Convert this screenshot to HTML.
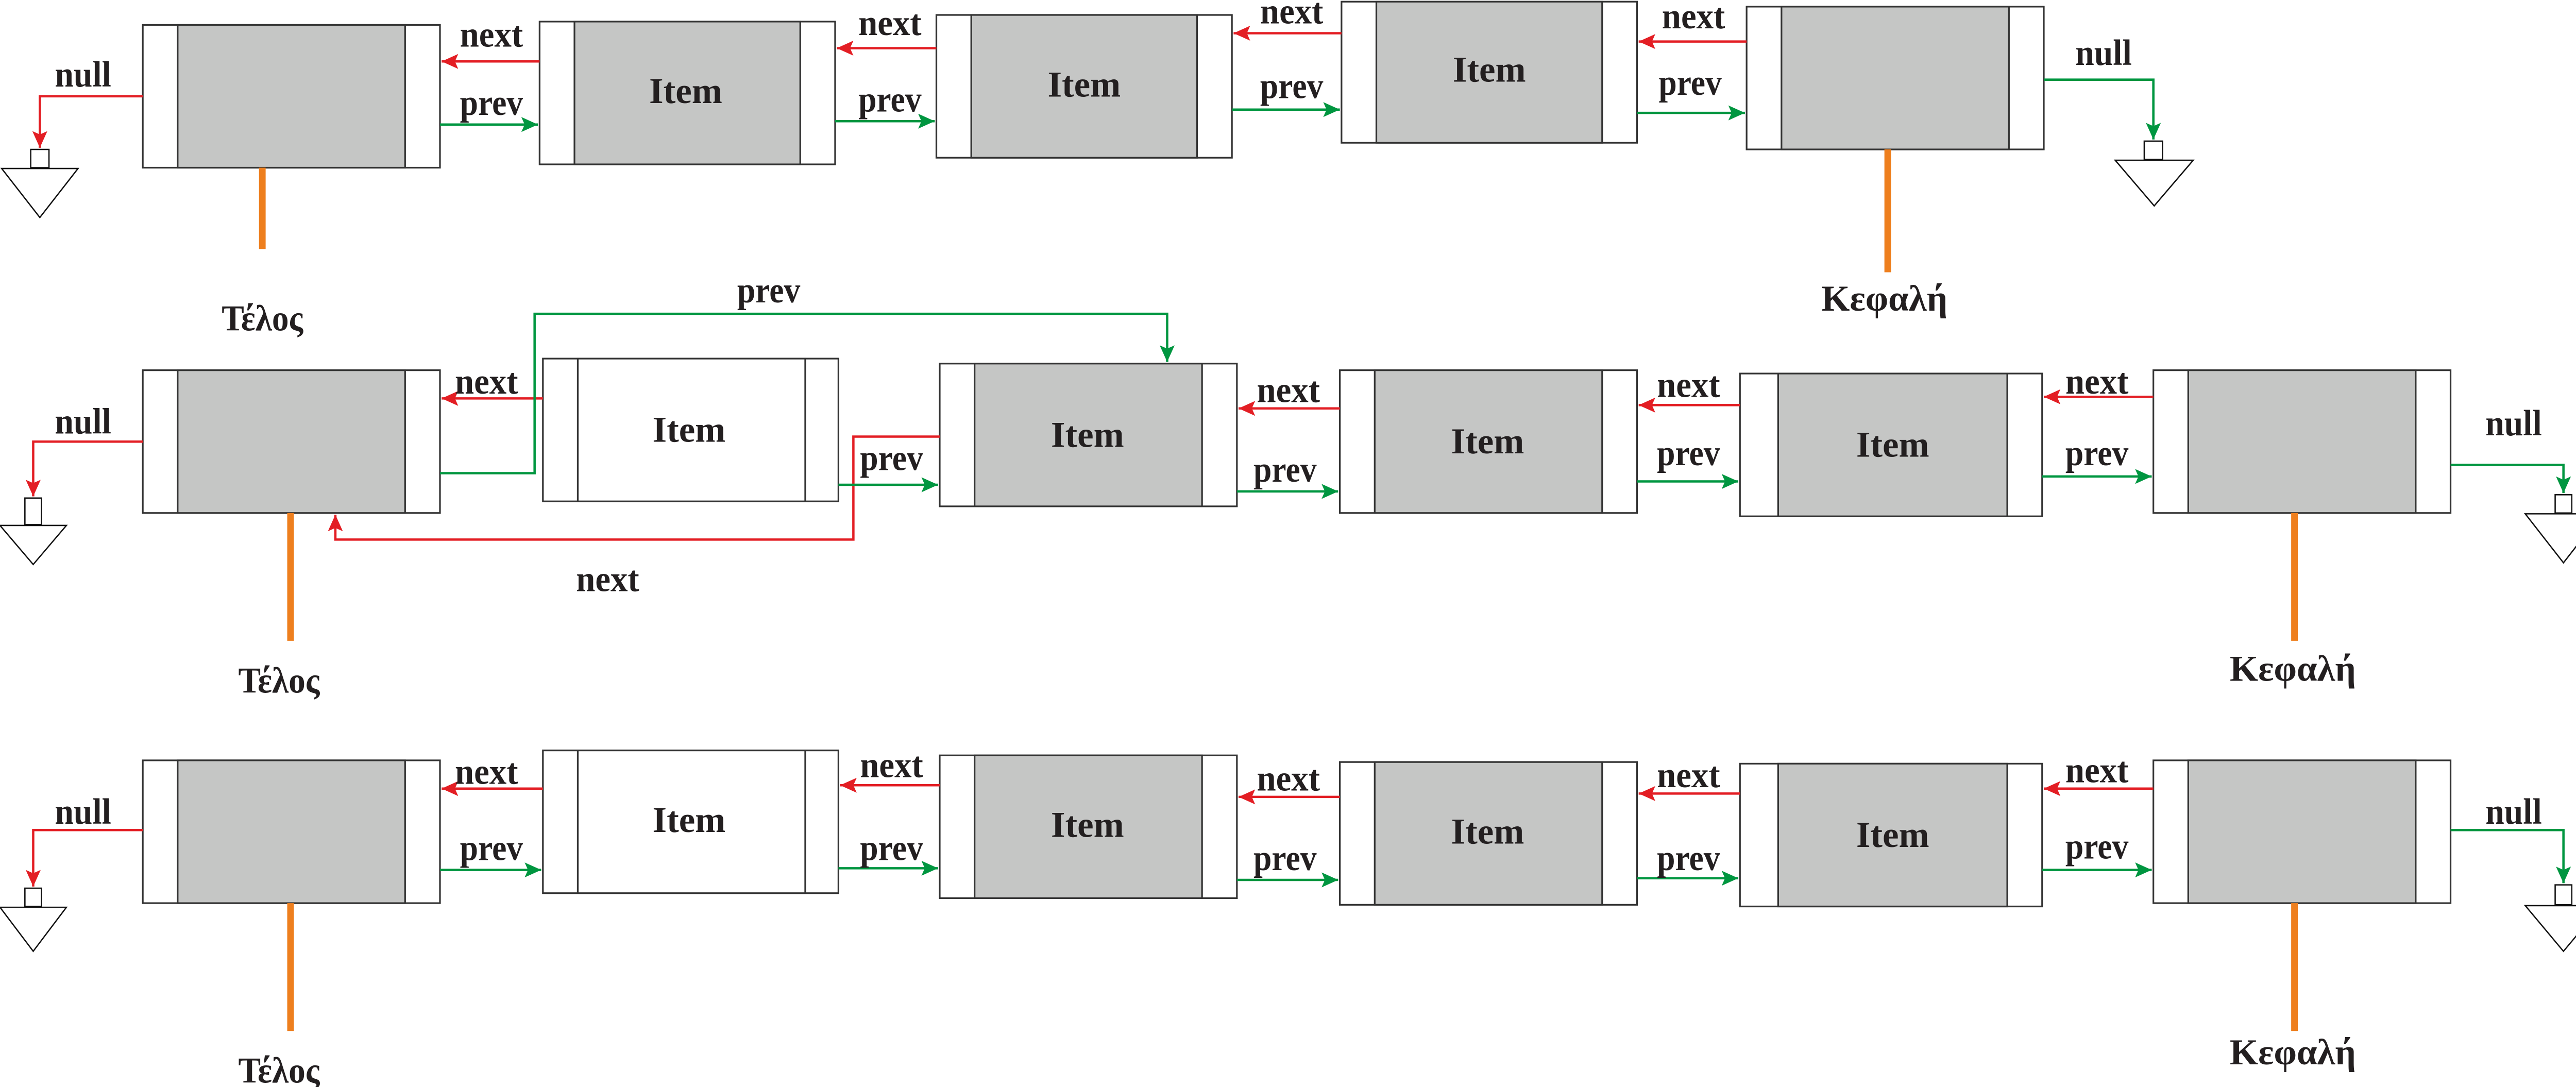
<!DOCTYPE html>
<html><head><meta charset="utf-8"><style>html,body{margin:0;padding:0;background:#fff}svg{display:block}</style></head>
<body>
<svg xmlns="http://www.w3.org/2000/svg" width="5053" height="2110" viewBox="0 0 1568 654.75">
<defs>
<marker id="r" markerUnits="userSpaceOnUse" markerWidth="11" markerHeight="9" refX="10" refY="4.5" orient="auto"><path d="M0,0 L10,4.5 L0,9 L2,4.5z" fill="#e31e24"/></marker>
<marker id="g" markerUnits="userSpaceOnUse" markerWidth="11" markerHeight="9" refX="10" refY="4.5" orient="auto"><path d="M0,0 L10,4.5 L0,9 L2,4.5z" fill="#009640"/></marker>
</defs>
<style>
.o{fill:#fff;stroke:#333;stroke-width:1}
.gr{fill:#c5c6c5;stroke:#333;stroke-width:1}
.wi{fill:#fff;stroke:#333;stroke-width:1}
.rl{fill:none;stroke:#e31e24;stroke-width:1.4}
.gl{fill:none;stroke:#009640;stroke-width:1.4}
.or{stroke:#ee7f1e;stroke-width:4}
text{font-family:"Liberation Serif",serif;font-weight:bold;font-size:22px;fill:#231f20;text-anchor:middle;dominant-baseline:central}
.gnd{fill:#fff;stroke:#111;stroke-width:0.8}
</style>

<!-- ROW 1 boxes -->
<rect class="o" x="86" y="15" width="179" height="86"/><rect class="gr" x="107" y="15" width="137" height="86"/>
<rect class="o" x="325" y="13" width="178" height="86"/><rect class="gr" x="346" y="13" width="136" height="86"/>
<rect class="o" x="564" y="9" width="178" height="86"/><rect class="gr" x="585" y="9" width="136" height="86"/>
<rect class="o" x="808" y="1" width="178" height="85"/><rect class="gr" x="829" y="1" width="136" height="85"/>
<rect class="o" x="1052" y="4" width="179" height="86"/><rect class="gr" x="1073" y="4" width="137" height="86"/>
<text x="413" y="55" textLength="44" lengthAdjust="spacingAndGlyphs">Item</text>
<text x="653" y="51" textLength="44" lengthAdjust="spacingAndGlyphs">Item</text>
<text x="897" y="42" textLength="44" lengthAdjust="spacingAndGlyphs">Item</text>

<polyline class="rl" points="325,37 266,37" marker-end="url(#r)"/>
<polyline class="gl" points="265,75 324,75" marker-end="url(#g)"/>
<polyline class="rl" points="564,29 504,29" marker-end="url(#r)"/>
<polyline class="gl" points="503,73 563,73" marker-end="url(#g)"/>
<polyline class="rl" points="808,20 743,20" marker-end="url(#r)"/>
<polyline class="gl" points="742,66 807,66" marker-end="url(#g)"/>
<polyline class="rl" points="1052,25 987,25" marker-end="url(#r)"/>
<polyline class="gl" points="986,68 1051,68" marker-end="url(#g)"/>
<text x="296" y="21" textLength="38" lengthAdjust="spacingAndGlyphs">next</text>
<text x="296" y="62" textLength="38" lengthAdjust="spacingAndGlyphs">prev</text>
<text x="536" y="14" textLength="38" lengthAdjust="spacingAndGlyphs">next</text>
<text x="536" y="60" textLength="38" lengthAdjust="spacingAndGlyphs">prev</text>
<text x="778" y="7" textLength="38" lengthAdjust="spacingAndGlyphs">next</text>
<text x="778" y="52" textLength="38" lengthAdjust="spacingAndGlyphs">prev</text>
<text x="1020" y="10" textLength="38" lengthAdjust="spacingAndGlyphs">next</text>
<text x="1018" y="50" textLength="38" lengthAdjust="spacingAndGlyphs">prev</text>

<polyline class="rl" points="86,58 24,58 24,89" marker-end="url(#r)"/>
<rect class="gnd" x="18.5" y="90" width="11" height="11"/><polygon class="gnd" points="1,101.5 47,101.5 24,131"/>
<text x="50" y="45" textLength="34" lengthAdjust="spacingAndGlyphs">null</text>
<polyline class="gl" points="1231,48 1297,48 1297,84" marker-end="url(#g)"/>
<rect class="gnd" x="1291.5" y="85" width="11" height="11"/><polygon class="gnd" points="1274,96.5 1321,96.5 1297.5,124"/>
<text x="1267" y="32" textLength="34" lengthAdjust="spacingAndGlyphs">null</text>

<line class="or" x1="158" y1="101" x2="158" y2="150"/>
<text x="158" y="192" textLength="49" lengthAdjust="spacingAndGlyphs">Τέλος</text>
<line class="or" x1="1137" y1="90" x2="1137" y2="164"/>
<text x="1135" y="180" textLength="76" lengthAdjust="spacingAndGlyphs">Κεφαλή</text>

<!-- ROW 2 -->
<rect class="o" x="86" y="223" width="179" height="86"/><rect class="gr" x="107" y="223" width="137" height="86"/>
<rect class="o" x="327" y="216" width="178" height="86"/><rect class="wi" x="348" y="216" width="137" height="86"/>
<rect class="o" x="566" y="219" width="179" height="86"/><rect class="gr" x="587" y="219" width="137" height="86"/>
<rect class="o" x="807" y="223" width="179" height="86"/><rect class="gr" x="828" y="223" width="137" height="86"/>
<rect class="o" x="1048" y="225" width="182" height="86"/><rect class="gr" x="1071" y="225" width="138" height="86"/>
<rect class="o" x="1297" y="223" width="179" height="86"/><rect class="gr" x="1318" y="223" width="137" height="86"/>
<text x="415" y="259" textLength="44" lengthAdjust="spacingAndGlyphs">Item</text>
<text x="655" y="262" textLength="44" lengthAdjust="spacingAndGlyphs">Item</text>
<text x="896" y="266" textLength="44" lengthAdjust="spacingAndGlyphs">Item</text>
<text x="1140" y="268" textLength="44" lengthAdjust="spacingAndGlyphs">Item</text>

<polyline class="rl" points="327,240 266,240" marker-end="url(#r)"/>
<text x="293" y="230" textLength="38" lengthAdjust="spacingAndGlyphs">next</text>
<polyline class="gl" points="265,285 322,285 322,189 703,189 703,218" marker-end="url(#g)"/>
<text x="463" y="175" textLength="38" lengthAdjust="spacingAndGlyphs">prev</text>
<polyline class="rl" points="566,263 514,263 514,325 202,325 202,310" marker-end="url(#r)"/>
<text x="366" y="349" textLength="38" lengthAdjust="spacingAndGlyphs">next</text>
<polyline class="gl" points="505,292 565,292" marker-end="url(#g)"/>
<text x="537" y="276" textLength="38" lengthAdjust="spacingAndGlyphs">prev</text>
<polyline class="rl" points="807,246 746,246" marker-end="url(#r)"/>
<text x="776" y="235" textLength="38" lengthAdjust="spacingAndGlyphs">next</text>
<polyline class="gl" points="745,296 806,296" marker-end="url(#g)"/>
<text x="774" y="283" textLength="38" lengthAdjust="spacingAndGlyphs">prev</text>
<polyline class="rl" points="1048,244 987,244" marker-end="url(#r)"/>
<text x="1017" y="232" textLength="38" lengthAdjust="spacingAndGlyphs">next</text>
<polyline class="gl" points="986,290 1047,290" marker-end="url(#g)"/>
<text x="1017" y="273" textLength="38" lengthAdjust="spacingAndGlyphs">prev</text>
<polyline class="rl" points="1297,239 1231,239" marker-end="url(#r)"/>
<text x="1263" y="230" textLength="38" lengthAdjust="spacingAndGlyphs">next</text>
<polyline class="gl" points="1230,287 1296,287" marker-end="url(#g)"/>
<text x="1263" y="273" textLength="38" lengthAdjust="spacingAndGlyphs">prev</text>

<polyline class="rl" points="86,266 20,266 20,299" marker-end="url(#r)"/>
<rect class="gnd" x="15" y="300" width="10" height="16"/><polygon class="gnd" points="0,316.5 40,316.5 20,340"/>
<text x="50" y="254" textLength="34" lengthAdjust="spacingAndGlyphs">null</text>
<polyline class="gl" points="1476,280 1544,280 1544,297" marker-end="url(#g)"/>
<rect class="gnd" x="1539" y="298" width="10" height="11"/><polygon class="gnd" points="1521,309.5 1567,309.5 1544,339"/>
<text x="1514" y="255" textLength="34" lengthAdjust="spacingAndGlyphs">null</text>

<line class="or" x1="175" y1="309" x2="175" y2="386"/>
<text x="168" y="410" textLength="49" lengthAdjust="spacingAndGlyphs">Τέλος</text>
<line class="or" x1="1382" y1="309" x2="1382" y2="386"/>
<text x="1381" y="403" textLength="76" lengthAdjust="spacingAndGlyphs">Κεφαλή</text>

<!-- ROW 3 -->
<rect class="o" x="86" y="458" width="179" height="86"/><rect class="gr" x="107" y="458" width="137" height="86"/>
<rect class="o" x="327" y="452" width="178" height="86"/><rect class="wi" x="348" y="452" width="137" height="86"/>
<rect class="o" x="566" y="455" width="179" height="86"/><rect class="gr" x="587" y="455" width="137" height="86"/>
<rect class="o" x="807" y="459" width="179" height="86"/><rect class="gr" x="828" y="459" width="137" height="86"/>
<rect class="o" x="1048" y="460" width="182" height="86"/><rect class="gr" x="1071" y="460" width="138" height="86"/>
<rect class="o" x="1297" y="458" width="179" height="86"/><rect class="gr" x="1318" y="458" width="137" height="86"/>
<text x="415" y="494" textLength="44" lengthAdjust="spacingAndGlyphs">Item</text>
<text x="655" y="497" textLength="44" lengthAdjust="spacingAndGlyphs">Item</text>
<text x="896" y="501" textLength="44" lengthAdjust="spacingAndGlyphs">Item</text>
<text x="1140" y="503" textLength="44" lengthAdjust="spacingAndGlyphs">Item</text>

<polyline class="rl" points="327,475 266,475" marker-end="url(#r)"/>
<text x="293" y="465" textLength="38" lengthAdjust="spacingAndGlyphs">next</text>
<polyline class="gl" points="265,524 326,524" marker-end="url(#g)"/>
<text x="296" y="511" textLength="38" lengthAdjust="spacingAndGlyphs">prev</text>
<polyline class="rl" points="566,473 506,473" marker-end="url(#r)"/>
<text x="537" y="461" textLength="38" lengthAdjust="spacingAndGlyphs">next</text>
<polyline class="gl" points="505,523 565,523" marker-end="url(#g)"/>
<text x="537" y="511" textLength="38" lengthAdjust="spacingAndGlyphs">prev</text>
<polyline class="rl" points="807,480 746,480" marker-end="url(#r)"/>
<text x="776" y="469" textLength="38" lengthAdjust="spacingAndGlyphs">next</text>
<polyline class="gl" points="745,530 806,530" marker-end="url(#g)"/>
<text x="774" y="517" textLength="38" lengthAdjust="spacingAndGlyphs">prev</text>
<polyline class="rl" points="1048,478 987,478" marker-end="url(#r)"/>
<text x="1017" y="467" textLength="38" lengthAdjust="spacingAndGlyphs">next</text>
<polyline class="gl" points="986,529 1047,529" marker-end="url(#g)"/>
<text x="1017" y="517" textLength="38" lengthAdjust="spacingAndGlyphs">prev</text>
<polyline class="rl" points="1297,475 1231,475" marker-end="url(#r)"/>
<text x="1263" y="464" textLength="38" lengthAdjust="spacingAndGlyphs">next</text>
<polyline class="gl" points="1230,524 1296,524" marker-end="url(#g)"/>
<text x="1263" y="510" textLength="38" lengthAdjust="spacingAndGlyphs">prev</text>

<polyline class="rl" points="86,500 20,500 20,534" marker-end="url(#r)"/>
<rect class="gnd" x="15" y="535" width="10" height="11"/><polygon class="gnd" points="0,546.5 40,546.5 20,573"/>
<text x="50" y="489" textLength="34" lengthAdjust="spacingAndGlyphs">null</text>
<polyline class="gl" points="1476,500 1544,500 1544,532" marker-end="url(#g)"/>
<rect class="gnd" x="1539" y="533" width="10" height="12"/><polygon class="gnd" points="1521,545.5 1567,545.5 1544,573"/>
<text x="1514" y="489" textLength="34" lengthAdjust="spacingAndGlyphs">null</text>

<line class="or" x1="175" y1="544" x2="175" y2="621"/>
<text x="168" y="645" textLength="49" lengthAdjust="spacingAndGlyphs">Τέλος</text>
<line class="or" x1="1382" y1="544" x2="1382" y2="621"/>
<text x="1381" y="634" textLength="76" lengthAdjust="spacingAndGlyphs">Κεφαλή</text>
</svg>
</body></html>
